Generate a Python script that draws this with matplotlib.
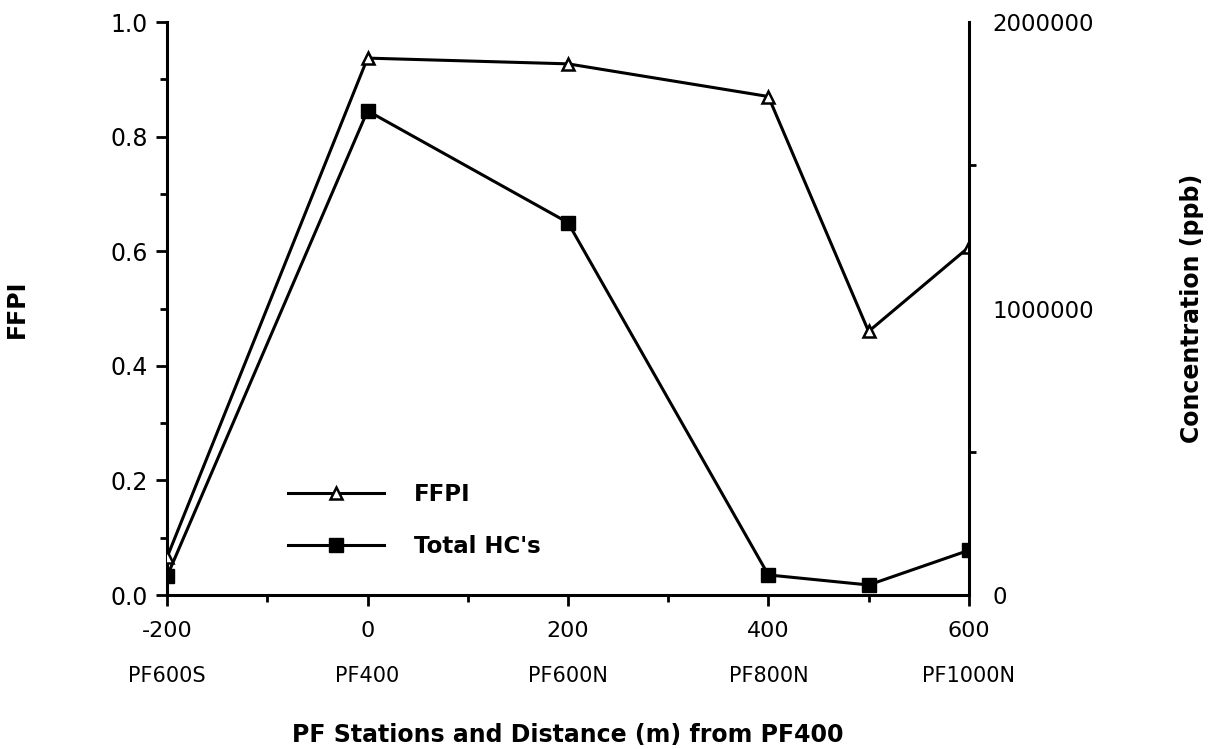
import matplotlib
matplotlib.use("Agg")
import matplotlib.pyplot as plt
from matplotlib.ticker import MultipleLocator, FixedLocator, FormatStrFormatter
import matplotlib.transforms as mtransforms

plt.rcParams['font.family'] = ['DejaVu Sans']
plt.rcParams['axes.unicode_minus'] = False

distance = [-200, 0, 200, 400, 500, 600]
ffpi = [0.066, 0.937, 0.927, 0.870, 0.460, 0.607]
total_hc = [66000, 1690000, 1300000, 70000, 35000, 156000]
station_pos = [-200, 0, 200, 400, 600]
station_names = ["PF600S", "PF400", "PF600N", "PF800N", "PF1000N"]

fig = plt.figure(figsize=(12.11, 7.49), dpi=100)
ax = fig.add_axes([0.138, 0.2056, 0.662, 0.765])
ax2 = ax.twinx()

lw = 2.2
l1, = ax.plot(distance, ffpi, color='black', lw=lw, marker='^', ms=9,
              mfc='white', mec='black', mew=1.8, label='FFPI', zorder=3)
l2, = ax2.plot(distance, total_hc, color='black', lw=lw, marker='s', ms=9.5,
               mfc='black', mec='black', label="Total HC's", zorder=3)

ax.set_xlim(-200, 600)
ax.set_ylim(0, 1.0)
ax2.set_ylim(0, 2000000)

for a in (ax, ax2):
    for s in a.spines.values():
        s.set_linewidth(2.2)
    a.spines['top'].set_visible(False)
ax.spines['right'].set_visible(False)
ax2.spines['left'].set_visible(False)
ax2.spines['bottom'].set_visible(False)

ax.xaxis.set_major_locator(FixedLocator([-200, 0, 200, 400, 600]))
ax.xaxis.set_minor_locator(FixedLocator([-100, 100, 300, 500]))
ax.yaxis.set_major_locator(MultipleLocator(0.2))
ax.yaxis.set_minor_locator(MultipleLocator(0.1))
ax.yaxis.set_major_formatter(FormatStrFormatter('%.1f'))

ax.tick_params(axis='both', which='major', direction='out', length=8, width=2)
ax.tick_params(axis='both', which='minor', direction='out', length=5, width=2)
ax.tick_params(axis='x', which='major', pad=11, labelsize=16)
ax.tick_params(axis='y', which='major', pad=6, labelsize=17)

ax2.yaxis.set_major_locator(FixedLocator([0, 1000000, 2000000]))
ax2.yaxis.set_minor_locator(FixedLocator([500000, 1500000]))
ax2.yaxis.set_major_formatter(FormatStrFormatter('%d'))
ax2.tick_params(axis='y', which='major', length=0, labelsize=16.5, pad=17)
ax2.tick_params(axis='y', which='minor', direction='out', length=5, width=2)

trans = mtransforms.blended_transform_factory(ax.transData, ax.transAxes)
for p, n in zip(station_pos, station_names):
    ax.text(p, -0.141, n, transform=trans, ha='center', va='center', fontsize=15)

ax.set_ylabel("FFPI", fontsize=17, fontweight='bold')
ax.yaxis.set_label_coords(-0.172, 0.5)
ax2.set_ylabel("Concentration (ppb)", fontsize=17, fontweight='bold')
ax2.yaxis.set_label_coords(1.264, 0.5)
fig.text(0.469, 0.0187, "PF Stations and Distance (m) from PF400", ha='center',
         va='center', fontsize=17, fontweight='bold')

leg = ax.legend([l1, l2], ["FFPI", "Total HC's"], loc='center left',
                bbox_to_anchor=(0.125, 0.13), frameon=False, fontsize=16.5,
                handlelength=4.2, handletextpad=1.3, labelspacing=1.24)
for t in leg.get_texts():
    t.set_fontweight('bold')

fig.savefig("out.png", dpi=100)
